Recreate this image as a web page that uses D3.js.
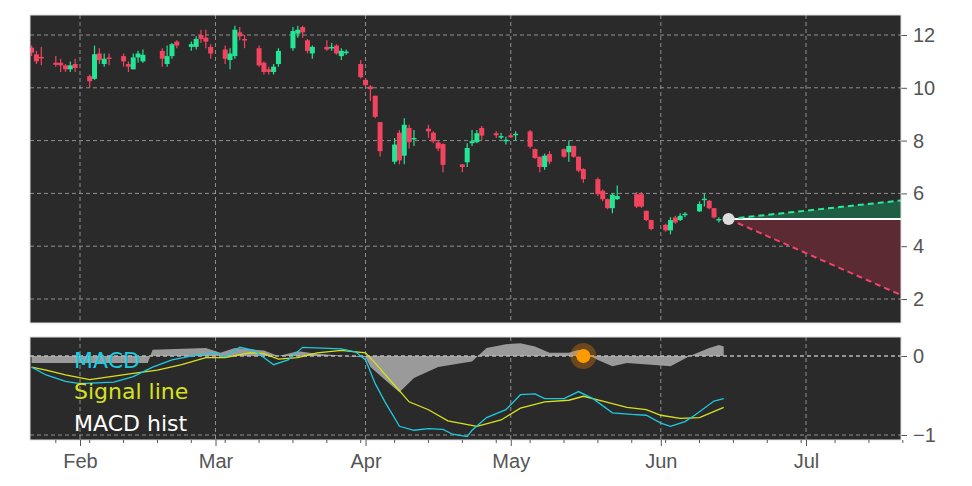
<!DOCTYPE html>
<html><head><meta charset="utf-8">
<script src="https://cdn.jsdelivr.net/npm/d3@7"></script>
<style>body{margin:0;background:#fff}svg{font-family:"DejaVu Sans",sans-serif}</style>
</head><body><svg id="chart" width="972" height="486"></svg>
<script>
// candles: date, open, high, low, close
const candles = [
["2025-01-22",11.52,11.6,11.2,11.33],["2025-01-23",11.27,11.4,10.9,11.0],["2025-01-24",11.17,11.55,10.85,11.12],
["2025-01-27",10.95,11.2,10.8,10.87],["2025-01-28",10.95,11.1,10.6,10.85],["2025-01-29",10.85,10.9,10.6,10.7],["2025-01-30",10.7,11.0,10.6,10.85],["2025-01-31",10.9,11.1,10.6,10.75],
["2025-02-03",10.44,10.5,10.0,10.25],["2025-02-04",10.34,11.6,10.3,11.27],["2025-02-05",11.3,11.5,10.9,11.05],["2025-02-06",10.9,11.3,10.8,11.1],["2025-02-07",11.15,11.3,10.85,11.12],
["2025-02-10",11.2,11.3,10.8,11.0],["2025-02-11",10.9,11.0,10.6,10.8],["2025-02-12",10.7,11.3,10.7,11.15],["2025-02-13",11.15,11.4,10.95,11.3],["2025-02-14",11.0,11.45,10.95,11.25],
["2025-02-18",11.4,11.5,10.8,11.1],["2025-02-19",10.9,11.6,10.8,11.2],["2025-02-20",11.2,11.7,11.1,11.65],["2025-02-21",11.75,11.8,11.5,11.6],
["2025-02-24",11.55,11.75,11.4,11.65],["2025-02-25",11.55,11.95,11.45,11.85],["2025-02-26",12.0,12.2,11.7,11.85],["2025-02-27",11.9,12.2,11.5,11.75],["2025-02-28",11.55,11.65,11.1,11.3],
["2025-03-03",11.45,11.6,10.9,11.1],["2025-03-04",11.05,11.5,10.7,11.3],["2025-03-05",11.2,12.35,11.1,12.2],["2025-03-06",12.1,12.3,11.8,11.95],["2025-03-07",11.85,12.0,11.5,11.8],
["2025-03-10",11.5,11.6,10.8,10.85],["2025-03-11",10.95,11.0,10.5,10.6],["2025-03-12",10.7,10.8,10.5,10.6],["2025-03-13",10.6,10.9,10.5,10.8],["2025-03-14",10.9,11.5,10.8,11.4],
["2025-03-17",11.5,12.3,11.4,12.15],["2025-03-18",12.05,12.35,11.9,12.2],["2025-03-19",12.3,12.35,11.9,12.1],["2025-03-20",11.8,11.85,11.3,11.4],["2025-03-21",11.3,11.6,11.1,11.55],
["2025-03-24",11.55,11.8,11.4,11.45],["2025-03-25",11.5,11.7,11.4,11.55],["2025-03-26",11.6,11.65,11.25,11.3],["2025-03-27",11.2,11.5,11.05,11.4],["2025-03-28",11.35,11.45,11.25,11.37],
["2025-03-31",10.9,11.05,10.35,10.4],["2025-04-01",10.3,10.35,10.05,10.1],["2025-04-02",10.05,10.1,9.5,9.95],["2025-04-03",9.7,9.7,8.85,8.9],["2025-04-04",8.7,8.7,7.4,7.6],
["2025-04-07",7.2,8.1,7.1,7.85],["2025-04-08",8.3,8.4,7.1,7.25],["2025-04-09",7.43,8.85,7.1,8.6],["2025-04-10",8.48,8.6,7.7,7.94],["2025-04-11",8.08,8.4,7.8,8.1],
["2025-04-14",8.45,8.6,8.1,8.35],["2025-04-15",8.3,8.35,7.9,7.97],["2025-04-16",7.93,8.0,7.6,7.7],["2025-04-17",7.87,7.9,6.8,7.08],
["2025-04-21",7.1,7.1,6.8,7.0],["2025-04-22",7.18,7.9,7.0,7.72],["2025-04-23",7.9,8.4,7.8,7.98],["2025-04-24",7.94,8.4,7.9,8.28],["2025-04-25",8.48,8.55,8.0,8.19],
["2025-04-28",8.28,8.35,8.1,8.2],["2025-04-29",8.15,8.3,8.05,8.17],["2025-04-30",8.0,8.15,7.85,8.03],["2025-05-01",8.2,8.3,8.1,8.13],["2025-05-02",8.23,8.35,8.0,8.26],
["2025-05-05",8.35,8.4,7.7,7.77],["2025-05-06",7.68,7.7,7.3,7.34],["2025-05-07",7.39,7.4,6.8,7.0],["2025-05-08",7.0,7.5,6.9,7.43],["2025-05-09",7.49,7.6,7.1,7.2],
["2025-05-12",7.68,7.7,7.35,7.39],["2025-05-13",7.56,8.0,7.2,7.8],["2025-05-14",7.8,7.8,7.35,7.39],["2025-05-15",7.39,7.4,6.8,6.86],["2025-05-16",6.92,6.95,6.4,6.54],
["2025-05-19",6.54,6.6,5.9,5.97],["2025-05-20",6.1,6.15,5.7,5.78],["2025-05-21",5.78,5.8,5.4,5.44],["2025-05-22",5.44,6.0,5.25,5.95],["2025-05-23",5.78,6.3,5.75,5.9],
["2025-05-27",5.97,6.05,5.45,5.5],["2025-05-28",5.97,6.05,5.45,5.5],["2025-05-29",5.34,5.35,4.95,4.99],["2025-05-30",4.99,5.0,4.6,4.65],
["2025-06-02",4.81,4.85,4.55,4.6],["2025-06-03",4.6,5.1,4.45,4.99],["2025-06-04",5.09,5.15,4.85,4.9],["2025-06-05",4.99,5.25,4.95,5.15],["2025-06-06",5.2,5.3,5.1,5.23],
["2025-06-09",5.32,5.7,5.3,5.6],["2025-06-10",5.78,6.0,5.5,5.8],["2025-06-11",5.72,5.75,5.4,5.44],["2025-06-12",5.44,5.45,5.05,5.09],["2025-06-13",5.0,5.1,4.9,5.03]
];
const lastPoint = ["2025-06-15", 5.03];
const forecastEnd = "2025-07-22";
const forecastUp = 5.76, forecastDown = 2.04;

const macd = [["2025-01-22",-0.14],["2025-01-25",-0.24],["2025-01-29",-0.32],["2025-02-01",-0.35],["2025-02-08",-0.33],["2025-02-12",-0.26],["2025-02-16",-0.14],["2025-02-20",-0.05],["2025-02-25",0.01],["2025-03-01",0.04],["2025-03-03",-0.01],["2025-03-06",0.11],["2025-03-09",0.07],["2025-03-13",-0.11],["2025-03-16",-0.05],["2025-03-19",0.11],["2025-03-23",0.10],["2025-03-27",0.09],["2025-03-30",0.05],["2025-04-01",-0.05],["2025-04-03",-0.35],["2025-04-05",-0.58],["2025-04-08",-0.89],["2025-04-11",-0.94],["2025-04-14",-0.92],["2025-04-17",-0.93],["2025-04-19",-0.99],["2025-04-22",-1.02],["2025-04-23",-0.94],["2025-04-26",-0.78],["2025-04-30",-0.68],["2025-05-03",-0.49],["2025-05-06",-0.48],["2025-05-08",-0.54],["2025-05-12",-0.54],["2025-05-15",-0.45],["2025-05-18",-0.54],["2025-05-22",-0.72],["2025-05-26",-0.74],["2025-05-29",-0.75],["2025-06-01",-0.85],["2025-06-03",-0.89],["2025-06-06",-0.83],["2025-06-08",-0.75],["2025-06-12",-0.57],["2025-06-14",-0.54]];
const signal = [["2025-01-22",-0.14],["2025-01-25",-0.18],["2025-01-29",-0.24],["2025-02-03",-0.30],["2025-02-12",-0.22],["2025-02-17",-0.18],["2025-02-22",-0.11],["2025-02-27",-0.02],["2025-03-03",-0.02],["2025-03-08",0.04],["2025-03-11",0.03],["2025-03-14",-0.04],["2025-03-18",-0.02],["2025-03-22",0.04],["2025-03-27",0.07],["2025-04-01",0.04],["2025-04-03",-0.09],["2025-04-06",-0.30],["2025-04-10",-0.58],["2025-04-14",-0.68],["2025-04-18",-0.82],["2025-04-24",-0.89],["2025-04-29",-0.81],["2025-05-03",-0.66],["2025-05-08",-0.58],["2025-05-13",-0.56],["2025-05-16",-0.51],["2025-05-20",-0.57],["2025-05-25",-0.65],["2025-05-29",-0.68],["2025-06-01",-0.75],["2025-06-05",-0.79],["2025-06-09",-0.78],["2025-06-14",-0.65]];
const hist = [["2025-01-22",-0.09],["2025-02-01",-0.09],["2025-02-15",-0.09],["2025-02-16",0.08],["2025-02-27",0.10],["2025-03-02",0.04],["2025-03-05",0.10],["2025-03-11",0.07],["2025-03-14",0.0],["2025-03-18",0.06],["2025-03-22",0.03],["2025-03-28",0.0],["2025-04-01",-0.02],["2025-04-02",-0.14],["2025-04-05",-0.30],["2025-04-08",-0.46],["2025-04-11",-0.28],["2025-04-16",-0.14],["2025-04-21",-0.09],["2025-04-23",-0.07],["2025-04-26",0.10],["2025-04-30",0.15],["2025-05-03",0.16],["2025-05-06",0.12],["2025-05-09",0.04],["2025-05-13",0.04],["2025-05-15",0.08],["2025-05-19",-0.05],["2025-05-22",-0.13],["2025-05-25",-0.09],["2025-05-30",-0.11],["2025-06-03",-0.13],["2025-06-07",0.0],["2025-06-11",0.10],["2025-06-13",0.14],["2025-06-14",0.12]];
const signalDot = ["2025-05-16", 0];
const priceTicks = [2,4,6,8,10,12];
const macdTicks = [0,-1];
const monthTicks = ["2025-02-01","2025-03-01","2025-04-01","2025-05-01","2025-06-01","2025-07-01"];

const parse = d3.timeParse("%Y-%m-%d");
const svg = d3.select("#chart");
const L = 30, R = 901;
const main = {top: 15, bottom: 323}, low = {top: 337, bottom: 440};

const x = d3.scaleTime().domain([parse("2025-02-01"), parse("2025-07-01")]).range([80, 806]);
const y = d3.scaleLinear().domain([12, 2]).range([35, 299]);
const ym = d3.scaleLinear().domain([0, -1]).range([356, 435]);

const clipIt = (id, p) => svg.append("clipPath").attr("id", id).append("rect")
    .attr("x", L).attr("y", p.top).attr("width", R - L).attr("height", p.bottom - p.top);
clipIt("cm", main); clipIt("cl", low);

function panel(p, yScale, ticks, fmt) {
    svg.append("rect").attr("x", L).attr("y", p.top).attr("width", R - L).attr("height", p.bottom - p.top)
        .attr("fill", "#2a2a2a");
    const g = svg.append("g").attr("clip-path", null);
    monthTicks.forEach(m => g.append("line").attr("x1", x(parse(m))).attr("x2", x(parse(m)))
        .attr("y1", p.top).attr("y2", p.bottom).attr("stroke", "#aaa").attr("stroke-width", 0.8).attr("stroke-dasharray", "4,3"));
    ticks.forEach(t => g.append("line").attr("x1", L).attr("x2", R).attr("y1", yScale(t)).attr("y2", yScale(t))
        .attr("stroke", "#aaa").attr("stroke-width", 0.8).attr("stroke-dasharray", "4,3"));
    const ax = svg.append("g").attr("transform", `translate(${R},0)`)
        .call(d3.axisRight(yScale).tickValues(ticks).tickFormat(fmt).tickSize(6).tickPadding(6));
    ax.select(".domain").remove();
    ax.selectAll("text").attr("font-size", 20).attr("fill", "#555");
    ax.selectAll("line").attr("stroke", "#555");
}
panel(main, y, priceTicks, d3.format("d"));
panel(low, ym, macdTicks, d => d === 0 ? "0" : "\u22121");

// forecast cone
const gm = svg.append("g").attr("clip-path", "url(#cm)");
const x0 = x(parse(lastPoint[0])), x1 = x(parse(forecastEnd));
gm.append("path").attr("d", `M${x0},${y(lastPoint[1])}L${x1},${y(forecastUp)}L${x1},${y(lastPoint[1])}Z`).attr("fill", "#1f5e45");
gm.append("path").attr("d", `M${x0},${y(lastPoint[1])}L${x1},${y(forecastDown)}L${x1},${y(lastPoint[1])}Z`).attr("fill", "#5c2a33");
gm.append("line").attr("x1", x0).attr("x2", x1).attr("y1", y(lastPoint[1])).attr("y2", y(lastPoint[1])).attr("stroke", "#fff").attr("stroke-width", 2);
gm.append("line").attr("x1", x0).attr("x2", x1).attr("y1", y(lastPoint[1])).attr("y2", y(forecastUp)).attr("stroke", "#2de89a").attr("stroke-width", 2).attr("stroke-dasharray", "6,4");
gm.append("line").attr("x1", x0).attr("x2", x1).attr("y1", y(lastPoint[1])).attr("y2", y(forecastDown)).attr("stroke", "#f0436a").attr("stroke-width", 2).attr("stroke-dasharray", "6,4");

// candles
const up = "#22e596", down = "#f2435f";
const cg = gm.selectAll("g.c").data(candles).join("g");
cg.append("line").attr("x1", d => x(parse(d[0]))).attr("x2", d => x(parse(d[0])))
    .attr("y1", d => y(d[2])).attr("y2", d => y(d[3])).attr("stroke", d => d[4] >= d[1] ? up : down).attr("stroke-width", 1.2);
cg.append("rect").attr("x", d => x(parse(d[0])) - 2.5).attr("width", 5)
    .attr("y", d => y(Math.max(d[1], d[4]))).attr("height", d => Math.max(1.5, Math.abs(y(d[1]) - y(d[4]))))
    .attr("fill", d => d[4] >= d[1] ? up : down);
gm.append("circle").attr("cx", x0).attr("cy", y(lastPoint[1])).attr("r", 6).attr("fill", "#ddd");

// MACD panel
const gl = svg.append("g").attr("clip-path", "url(#cl)");
gl.append("path").datum(hist).attr("fill", "#9a9a9a")
    .attr("d", d3.area().x(d => x(parse(d[0]))).y0(ym(0)).y1(d => ym(d[1])));
gl.append("line").attr("x1", L).attr("x2", R).attr("y1", ym(0)).attr("y2", ym(0)).attr("stroke", "#ccc").attr("stroke-width", 1).attr("stroke-dasharray", "4,3");
const ln = d3.line().x(d => x(parse(d[0]))).y(d => ym(d[1]));
gl.append("path").datum(signal).attr("d", ln).attr("fill", "none").attr("stroke", "#d8e21c").attr("stroke-width", 1.3);
gl.append("path").datum(macd).attr("d", ln).attr("fill", "none").attr("stroke", "#1ccbe0").attr("stroke-width", 1.3);
gl.append("circle").attr("cx", x(parse(signalDot[0]))).attr("cy", ym(signalDot[1])).attr("r", 13).attr("fill", "#ff8c00").attr("opacity", 0.3);
gl.append("circle").attr("cx", x(parse(signalDot[0]))).attr("cy", ym(signalDot[1])).attr("r", 7).attr("fill", "#ff9a00");

[["MACD", "#1ccbe0", 368], ["Signal line", "#d8e21c", 399], ["MACD hist", "#ffffff", 431]].forEach(t =>
    svg.append("text").attr("x", 74).attr("y", t[2]).attr("font-size", 22).attr("fill", t[1]).text(t[0]));

// frames
[main, low].forEach(p => svg.append("rect").attr("x", L).attr("y", p.top).attr("width", R - L).attr("height", p.bottom - p.top)
    .attr("fill", "none").attr("stroke", "#ddd").attr("stroke-width", 1));

// x axis
const xa = svg.append("g").attr("transform", `translate(0,${low.bottom})`)
    .call(d3.axisBottom(x).tickValues(monthTicks.map(parse)).tickFormat(d3.timeFormat("%b")).tickSize(6).tickPadding(8));
xa.select(".domain").remove();
xa.selectAll("text").attr("font-size", 20).attr("fill", "#555");
xa.selectAll("line").attr("stroke", "#555");
const mondays = d3.timeMonday.range(parse("2025-01-22"), parse("2025-07-22"));
svg.append("g").selectAll("line").data(mondays).join("line")
    .attr("x1", d => x(d)).attr("x2", d => x(d)).attr("y1", low.bottom).attr("y2", low.bottom + 3).attr("stroke", "#555");
</script></body></html>
